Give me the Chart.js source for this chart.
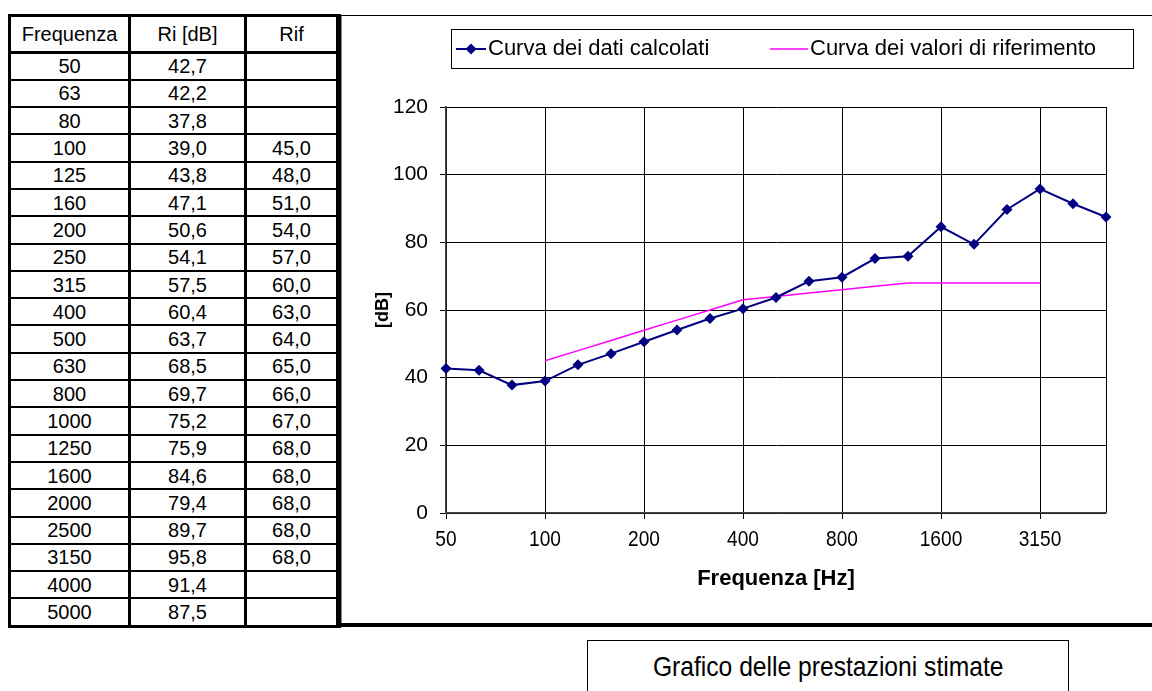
<!DOCTYPE html>
<html>
<head>
<meta charset="utf-8">
<script src="https://cdn.jsdelivr.net/npm/chart.js@4/dist/chart.umd.min.js"></script>
<style>
  html, body { margin: 0; padding: 0; background: #fff; }
  body { width: 1152px; height: 691px; position: relative; overflow: hidden;
         font-family: "Liberation Sans", Arial, sans-serif; color: #000; }
  #tab { position: absolute; left: 8px; top: 14px; border-collapse: collapse;
         border: 3px solid #000; border-right-width: 5px; table-layout: fixed; }
  #tab th, #tab td { border-left: 3px solid #000; border-right: 3px solid #000;
         border-top: 2px solid #000; border-bottom: 2px solid #000;
         text-align: center; font-weight: normal; font-size: 20px; padding: 0; line-height: 22px; }
  #tab th { height: 33.5px; border-bottom-width: 3px; }
  #tab td { height: 25.3px; }
  #frameTop { position: absolute; left: 340px; top: 15px; width: 812px; height: 1px; background: #000; }
  #frameLeft { position: absolute; left: 341px; top: 16px; width: 1px; height: 607px; background: #888; }
  #frameBottom { position: absolute; left: 336px; top: 623px; width: 816px; height: 4px; background: #000; }
  #chartBox { position: absolute; left: 342px; top: 17px; width: 810px; height: 605px; }
  #caption { position: absolute; left: 587px; top: 640px; width: 480px; height: 60px;
             border: 1px solid #000; text-align: center; }
  #caption span { display: inline-block; font-size: 28px; line-height: 52px;
                  transform: scaleX(0.88); transform-origin: center; white-space: nowrap; }
</style>
</head>
<body>
<table id="tab">
  <colgroup><col style="width:120px"><col style="width:116px"><col style="width:93px"></colgroup>
  <thead><tr><th>Frequenza</th><th>Ri [dB]</th><th>Rif</th></tr></thead>
  <tbody id="tbody"></tbody>
</table>
<div id="frameTop"></div>
<div id="frameLeft"></div>
<div id="frameBottom"></div>
<div id="chartBox"><canvas id="grafico" width="810" height="605"></canvas></div>
<div id="caption"><span>Grafico delle prestazioni stimate</span></div>

<script>
// Frequenze di terzo d'ottava [Hz]
const frequenze = ['50','63','80','100','125','160','200','250','315','400','500','630',
                   '800','1000','1250','1600','2000','2500','3150','4000','5000'];
// Potere fonoisolante calcolato Ri [dB]
const riDB = [42.7, 42.2, 37.8, 39.0, 43.8, 47.1, 50.6, 54.1, 57.5, 60.4, 63.7,
              68.5, 69.7, 75.2, 75.9, 84.6, 79.4, 89.7, 95.8, 91.4, 87.5];
// Curva di riferimento [dB]
const rif = [null, null, null, 45.0, 48.0, 51.0, 54.0, 57.0, 60.0, 63.0, 64.0,
             65.0, 66.0, 67.0, 68.0, 68.0, 68.0, 68.0, 68.0, null, null];
// Etichette mostrate sugli assi
const xTickLabels = ['50', '100', '200', '400', '800', '1600', '3150'];
const yTicks = [0, 20, 40, 60, 80, 100, 120];

// Tabella dei valori
const fmt = v => v === null ? '' : v.toFixed(1).replace('.', ',');
const tbody = document.getElementById('tbody');
frequenze.forEach((f, i) => {
  const tr = document.createElement('tr');
  [f, fmt(riDB[i]), fmt(rif[i])].forEach(t => {
    const td = document.createElement('td');
    td.textContent = t;
    tr.appendChild(td);
  });
  tbody.appendChild(tr);
});

const FONT = '"Liberation Sans", Arial, sans-serif';
const lastIdx = frequenze.length - 1;
const shownX = i => xTickLabels.includes(frequenze[i]);

// Legenda incorniciata, disegnata con gli stili dei dataset
const legendaBox = {
  id: 'legendaBox',
  afterDraw(chart, args, o) {
    const ctx = chart.ctx;
    ctx.save();
    ctx.strokeStyle = '#000';
    ctx.lineWidth = 1;
    ctx.strokeRect(o.x + 0.5, o.y + 0.5, o.w, o.h);
    ctx.font = o.fontSize + 'px ' + FONT;
    ctx.textBaseline = 'middle';
    const cy = o.y + o.h / 2 + 0.5;
    chart.data.datasets.forEach((ds, i) => {
      const x = o.x + o.items[i];
      const len = o.samples[i];
      ctx.strokeStyle = ds.borderColor;
      ctx.lineWidth = ds.borderWidth;
      ctx.beginPath();
      ctx.moveTo(x, cy);
      ctx.lineTo(x + len, cy);
      ctx.stroke();
      if (ds.pointRadius > 0) {
        const r = ds.pointRadius, mx = x + len / 2;
        ctx.fillStyle = ds.pointBackgroundColor;
        ctx.beginPath();
        ctx.moveTo(mx, cy - r); ctx.lineTo(mx + r, cy);
        ctx.lineTo(mx, cy + r); ctx.lineTo(mx - r, cy);
        ctx.closePath();
        ctx.fill();
      }
      ctx.fillStyle = '#000';
      ctx.fillText(ds.label, x + len + 2, cy);
    });
    ctx.restore();
  }
};

// Etichette dell'asse delle frequenze in carattere stretto, poste sui tick della scala
const etichetteStrette = {
  id: 'etichetteStrette',
  afterDraw(chart, args, o) {
    const s = chart.scales.x, ctx = chart.ctx;
    ctx.save();
    ctx.font = o.size + 'px ' + FONT;
    ctx.fillStyle = '#000';
    ctx.textAlign = 'center';
    ctx.textBaseline = 'middle';
    const y = chart.chartArea.bottom + o.offset;
    s.ticks.forEach((t, i) => {
      const lab = s.getLabelForValue(t.value);
      if (!xTickLabels.includes(lab)) return;
      ctx.save();
      ctx.translate(s.getPixelForTick(i), y);
      ctx.scale(o.stretch, 1);
      ctx.fillText(lab, 0, 0);
      ctx.restore();
    });
    ctx.restore();
  }
};

new Chart(document.getElementById('grafico'), {
  type: 'line',
  data: {
    labels: frequenze,
    datasets: [
      {
        label: 'Curva dei dati calcolati',
        data: riDB,
        borderColor: '#000080',
        backgroundColor: '#000080',
        pointBackgroundColor: '#000080',
        pointBorderColor: '#000080',
        borderWidth: 2,
        pointStyle: 'rectRot',
        pointRadius: 5.5,
        pointBorderWidth: 0,
        tension: 0
      },
      {
        label: 'Curva dei valori di riferimento',
        data: rif,
        borderColor: '#FF00FF',
        backgroundColor: '#FF00FF',
        borderWidth: 1.5,
        pointRadius: 0,
        tension: 0,
        spanGaps: false
      }
    ]
  },
  options: {
    responsive: false,
    animation: false,
    layout: { padding: { top: 90, right: 46, bottom: 0, left: 0 } },
    plugins: {
      legend: { display: false },
      tooltip: { enabled: false },
      legendaBox: { x: 109, y: 12, w: 682, h: 39, items: [5, 319], samples: [30, 38], fontSize: 22 },
      etichetteStrette: { size: 22, stretch: 0.87, offset: 27 }
    },
    scales: {
      x: {
        type: 'category',
        offset: false,
        afterFit: s => { s.height = 109; },
        grid: {
          color: c => (shownX(c.index) || c.index === lastIdx) ? '#000' : 'rgba(0,0,0,0)',
          tickColor: c => shownX(c.index) ? '#000' : 'rgba(0,0,0,0)',
          tickLength: 6,
          lineWidth: 1
        },
        border: { color: '#444', width: 1.5 },
        ticks: { display: false, autoSkip: false, maxRotation: 0 },
        title: {
          display: true,
          text: 'Frequenza [Hz]',
          color: '#000',
          font: { family: FONT, size: 22, weight: 'bold' },
          padding: { top: 0, bottom: 30 }
        }
      },
      y: {
        min: 0,
        max: 120,
        afterFit: s => { s.width = 104; },
        afterBuildTicks: s => { s.ticks = yTicks.map(v => ({ value: v })); },
        grid: { color: '#000', tickColor: '#000', tickLength: 6, lineWidth: 1 },
        border: { color: '#444', width: 1.5 },
        ticks: {
          padding: 12,
          color: '#000',
          font: { family: FONT, size: 21 }
        },
        title: {
          display: true,
          text: '[dB]',
          color: '#000',
          font: { family: FONT, size: 18, weight: 'bold' },
          padding: { top: 30, bottom: 0 }
        }
      }
    }
  },
  plugins: [legendaBox, etichetteStrette]
});
</script>
</body>
</html>
